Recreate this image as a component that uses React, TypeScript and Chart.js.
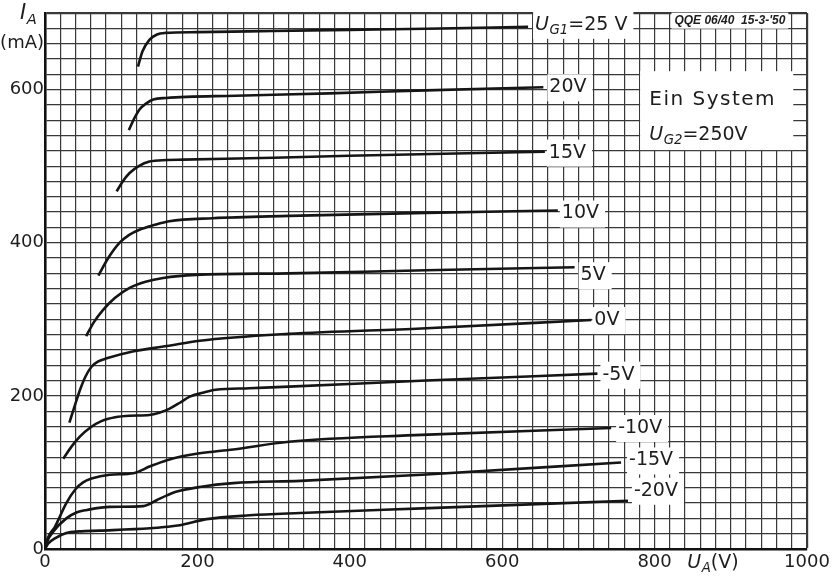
import React, { useEffect, useRef } from 'react';
import { Chart, registerables } from 'chart.js';

Chart.register(...registerables);

// ---- data (U_A in V, I_A in mA), one pair of arrays per grid voltage ----
const UA_P25 = [122, 128, 137, 147, 158, 200, 300, 400, 500, 634];
const IA_P25 = [630, 650, 665, 672, 674, 675, 676.5, 678, 679.5, 682];

const UA_P20 = [110, 117, 124, 133, 142, 159, 250, 373, 500, 654];
const IA_P20 = [547, 562, 574, 582, 587, 589, 592, 595, 599, 603];

const UA_P15 = [94, 102, 111, 123, 137, 160, 181, 300, 399, 656];
const IA_P15 = [467, 480, 491, 500, 506, 508, 508.5, 511, 513.5, 519];

const UA_P10 = [70, 83, 98, 110, 124, 143, 163, 220, 320, 500, 673];
const IA_P10 = [357, 380, 400, 410, 417, 423, 428, 432, 435, 439, 442];

const UA_P5 = [54, 64, 76, 92, 111, 132, 155, 198, 320, 500, 695];
const IA_P5 = [278, 296, 312, 328, 341, 349, 354, 358, 360, 364, 368];

const UA_0 = [32, 39, 46, 53, 61, 70, 81, 115, 160, 203, 320, 494, 717];
const IA_0 = [165, 187, 208, 225, 238, 245, 249, 258, 265, 272, 281, 288, 299];

const UA_M5 = [24, 35, 46, 60, 74, 92, 111, 137, 150, 163, 177, 190, 207, 224, 268, 320, 500, 725];
const IA_M5 = [118, 134, 147, 159, 167, 172, 174, 175, 178, 183, 191, 199, 204, 208, 210, 212, 220, 229];

const UA_M10 = [0, 4, 13, 28, 40, 50, 61, 85, 116, 138, 160, 180, 203, 247, 320, 494, 743];
const IA_M10 = [0, 15, 29, 60, 78, 87, 92, 97, 99, 108, 116, 121, 125, 130, 140, 149, 158];

const UA_M15 = [0, 3, 11, 28, 42, 55, 85, 129, 147, 160, 173, 203, 247, 335, 495, 756];
const IA_M15 = [0, 10, 23, 40, 48, 51, 55, 56, 64, 70, 75, 81, 86, 89, 97, 113];

const UA_M20 = [0, 4, 13, 28, 45, 72, 138, 160, 177, 212, 269, 335, 495, 765];
const IA_M20 = [0, 7, 14, 21, 23, 24, 27, 29, 31, 39, 44, 47, 53, 63];

const CURVE_LABELS = ['U_G1=25 V', '20V', '15V', '10V', '5V', '0V', '-5V', '-10V', '-15V', '-20V'];
const X_TICK_LABELS = ['0', '200', '400', '600', '800', '1000'];
const Y_TICK_LABELS = ['0', '200', '400', '600'];
const Y_UNIT_TICK = 660;
const TYPE_TEXT = "QQE 06/40  15-3-'50";
const INFO_TITLE = 'Ein System';
const INFO_UG2 = '=250V';

// ---- style ----
const FONT = '"DejaVu Sans", sans-serif';
const INK = '#1d1d1d';
const GRID = '#383838';
// label offsets relative to each curve's last point (px)
const LABEL_OFFSETS: [number, number][] = [
  [7, -2], [6, 0], [4, 1], [4, 3], [6, 8], [3, 0], [5, 1], [7, 0], [8, -2], [6, -10],
];

type Part = { t: string; it?: boolean; sub?: boolean };

function parseLabel(s: string): Part[] {
  const m = s.match(/^U_(G\d)(.*)$/);
  if (m) return [{ t: 'U', it: true }, { t: m[1], it: true, sub: true }, { t: m[2] }];
  return [{ t: s }];
}

function drawRich(ctx: CanvasRenderingContext2D, parts: Part[], x: number, y: number, size: number, draw = true) {
  let cx = x;
  for (const p of parts) {
    const s = p.sub ? size * 0.7 : size;
    ctx.font = `${p.it ? 'italic ' : ''}${s}px ${FONT}`;
    if (draw) ctx.fillText(p.t, cx, p.sub ? y + size * 0.3 : y);
    cx += ctx.measureText(p.t).width + (p.it && !p.sub ? 0.5 : 0);
  }
  return cx - x;
}

const annotPlugin = {
  id: 'annot',
  afterDatasetsDraw(chart: any) {
    const ctx: CanvasRenderingContext2D = chart.ctx;
    const xs = chart.scales.x;
    const ys = chart.scales.y;
    ctx.save();
    ctx.textBaseline = 'middle';
    ctx.textAlign = 'left';

    // curve labels
    chart.data.datasets.forEach((ds: any, i: number) => {
      const meta = chart.getDatasetMeta(i);
      const last = meta.data[meta.data.length - 1];
      const [dx, dy] = LABEL_OFFSETS[i];
      const parts = parseLabel(CURVE_LABELS[i]);
      const size = 19;
      const w = drawRich(ctx, parts, 0, 0, size, false);
      const x = last.x + dx;
      const y = last.y + dy;
      ctx.fillStyle = '#fff';
      ctx.fillRect(x - 2, y - 13, w + 8, 27);
      ctx.fillStyle = INK;
      drawRich(ctx, parts, x, y, size);
    });

    // type / date stamp
    {
      ctx.font = `italic bold 12px "Liberation Sans", sans-serif`;
      const x = xs.getPixelForValue(826);
      const y = ys.getPixelForValue(690);
      const w = ctx.measureText(TYPE_TEXT).width;
      ctx.fillStyle = '#fff';
      ctx.fillRect(x - 3, y - 8, w + 6, 16);
      ctx.fillStyle = INK;
      ctx.fillText(TYPE_TEXT, x, y);
    }

    // info box
    {
      const x0 = xs.getPixelForValue(781);
      const x1 = xs.getPixelForValue(982);
      const y0 = ys.getPixelForValue(624);
      const y1 = ys.getPixelForValue(521);
      ctx.fillStyle = '#fff';
      ctx.fillRect(x0, y0, x1 - x0, y1 - y0);
      ctx.fillStyle = INK;
      const tx = xs.getPixelForValue(793);
      ctx.font = `20px ${FONT}`;
      (ctx as any).letterSpacing = '1.5px';
      ctx.fillText(INFO_TITLE, tx, ys.getPixelForValue(586));
      (ctx as any).letterSpacing = '0px';
      drawRich(ctx, [{ t: 'U', it: true }, { t: 'G2', it: true, sub: true }, { t: INFO_UG2 }], tx, ys.getPixelForValue(541), 19);
    }

    ctx.restore();
  },
  afterDraw(chart: any) {
    const ctx: CanvasRenderingContext2D = chart.ctx;
    const ca = chart.chartArea;
    const xs = chart.scales.x;
    ctx.save();
    ctx.fillStyle = INK;
    ctx.textBaseline = 'middle';
    ctx.textAlign = 'left';
    // y axis title I_A
    drawRich(ctx, [{ t: 'I', it: true }, { t: 'A', it: true, sub: true }], 20, ca.top + 1, 21);
    // x axis title U_A(V)
    drawRich(ctx, [{ t: 'U', it: true }, { t: 'A', it: true, sub: true }, { t: '(V)' }], xs.getPixelForValue(843), ca.bottom + 14, 19);
    ctx.restore();
  },
};

const SERIES = [
  [UA_P25, IA_P25], [UA_P20, IA_P20], [UA_P15, IA_P15], [UA_P10, IA_P10], [UA_P5, IA_P5],
  [UA_0, IA_0], [UA_M5, IA_M5], [UA_M10, IA_M10], [UA_M15, IA_M15], [UA_M20, IA_M20],
];

export default function App() {
  const ref = useRef<HTMLCanvasElement | null>(null);
  useEffect(() => {
    document.body.style.margin = '0';
    document.body.style.background = '#fff';
    const canvas = ref.current!;
    const datasets = SERIES.map(([xs, ys], i) => ({
      label: CURVE_LABELS[i],
      data: xs.map((x, j) => ({ x, y: ys[j] })),
      borderColor: '#151515',
      borderWidth: 2.6,
      pointRadius: 0,
      fill: false,
      cubicInterpolationMode: 'monotone' as const,
    }));
    const chart = new Chart(canvas, {
      type: 'line',
      data: { datasets },
      options: {
        animation: false,
        responsive: false,
        devicePixelRatio: 1,
        layout: { padding: { left: 0, right: 28, top: 13, bottom: 0 } },
        plugins: { legend: { display: false }, tooltip: { enabled: false } },
        scales: {
          x: {
            type: 'linear',
            min: 0,
            max: 1000,
            afterFit: (s: any) => { s.height = 28; },
            ticks: {
              stepSize: 20,
              autoSkip: false,
              maxRotation: 0,
              padding: 3,
              color: INK,
              font: { family: FONT, size: 18 },
              callback: (v: any) => (X_TICK_LABELS.includes(String(v)) ? String(v) : ''),
            },
            grid: {
              color: GRID,
              lineWidth: (c: any) => (c.tick && c.tick.value === 1000 ? 2.2 : 1.2),
              drawTicks: false,
            },
            border: { color: '#111', width: 2.6 },
          },
          y: {
            type: 'linear',
            min: 0,
            max: 700,
            afterFit: (s: any) => { s.width = 45; },
            ticks: {
              stepSize: 20,
              autoSkip: false,
              padding: 1,
              color: INK,
              font: { family: FONT, size: 18 },
              callback: (v: any) =>
                Y_TICK_LABELS.includes(String(v)) ? String(v) : v === Y_UNIT_TICK ? '(mA)' : '',
            },
            grid: {
              color: GRID,
              lineWidth: (c: any) => (c.tick && c.tick.value === 700 ? 2.2 : 1.2),
              drawTicks: false,
            },
            border: { color: '#111', width: 2.6 },
          },
        },
      },
      plugins: [annotPlugin],
    });
    return () => chart.destroy();
  }, []);
  return (
    <div style={{ position: 'absolute', left: 0, top: 0, width: 835, height: 577, background: '#fff' }}>
      <canvas ref={ref} width={835} height={577} />
    </div>
  );
}
